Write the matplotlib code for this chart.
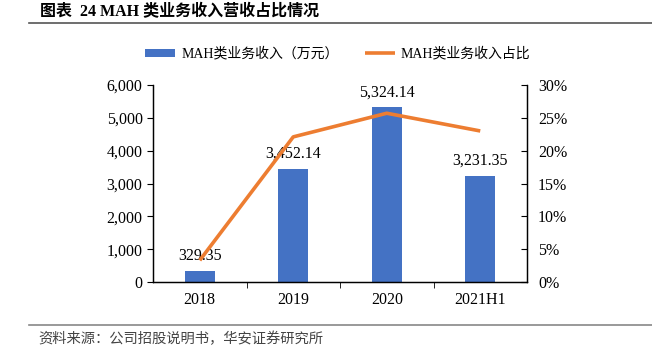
import matplotlib
matplotlib.use("Agg")
import matplotlib.pyplot as plt
from matplotlib.lines import Line2D
from matplotlib.ticker import FuncFormatter

plt.rcParams['font.family'] = ['Liberation Serif', 'Noto Sans CJK SC']
plt.rcParams['axes.unicode_minus'] = False

years = ["2018", "2019", "2020", "2021H1"]
revenue = [329.35, 3452.14, 5324.14, 3231.35]        # 万元
share = [3.3, 22.1, 25.7, 23.0]                       # %

bar_color = "#4472C4"
line_color = "#ED7D31"

fig = plt.figure(figsize=(6.52, 3.54), dpi=100)
ax = fig.add_axes([153/652, 1-282/354, 374/652, 197/354])
ax2 = ax.twinx()

x = range(len(years))
bars = ax.bar(x, revenue, width=0.32, color=bar_color, label="MAH类业务收入（万元）", zorder=2)
ln, = ax2.plot(x, share, color=line_color, lw=2.6, label="MAH类业务收入占比",
               solid_capstyle="butt", zorder=3)

for xi, v in zip(x, revenue):
    ax.annotate(f"{v:,.2f}", (xi, v), xytext=(0, 5), textcoords="offset points",
                ha="center", va="bottom", fontsize=11.5)

ax.set_xlim(-0.5, 3.5)
ax.set_ylim(0, 6000)
ax.set_yticks(range(0, 6001, 1000))
ax.yaxis.set_major_formatter(FuncFormatter(lambda v, p: f"{int(v):,}"))
ax2.set_ylim(0, 30)
ax2.set_yticks(range(0, 31, 5))
ax2.yaxis.set_major_formatter(FuncFormatter(lambda v, p: f"{int(v)}%"))

ax.set_xticks(list(x))
ax.set_xticklabels(years)
ax.set_xticks([0.5, 1.5, 2.5], minor=True)
ax.tick_params(axis="x", which="major", length=0, pad=7, labelsize=11.5)
ax.tick_params(axis="x", which="minor", length=4, direction="out")
ax.tick_params(axis="y", length=4, direction="out", labelsize=11.5)
ax2.tick_params(axis="y", length=4, direction="in", pad=8, labelsize=11.5)

for a in (ax, ax2):
    a.spines["top"].set_visible(False)
    for s in ("left", "right", "bottom"):
        a.spines[s].set_color("black")
        a.spines[s].set_linewidth(0.9)
    a.set_facecolor("none")

fig.legend(handles=[bars, ln], loc="center", bbox_to_anchor=(0.518, 1-54/354), ncol=2,
           frameon=False, fontsize=10, handlelength=2.2, handleheight=0.5,
           columnspacing=1.9, handletextpad=0.4)

fig.text(40/652, 1-12/354, "图表  24 MAH 类业务收入营收占比情况", fontsize=11.5,
         fontweight="bold", ha="left", va="center")
fig.add_artist(Line2D([29/652, 1], [1-23/354, 1-23/354], color="#555555", lw=1.2))
fig.add_artist(Line2D([29/652, 1], [1-325/354, 1-325/354], color="#888888", lw=1.2))
fig.text(38/652, 1-339/354, "资料来源：公司招股说明书，华安证券研究所", fontsize=10.3,
         color="#444444", ha="left", va="center")

fig.savefig("out.png", dpi=100)
